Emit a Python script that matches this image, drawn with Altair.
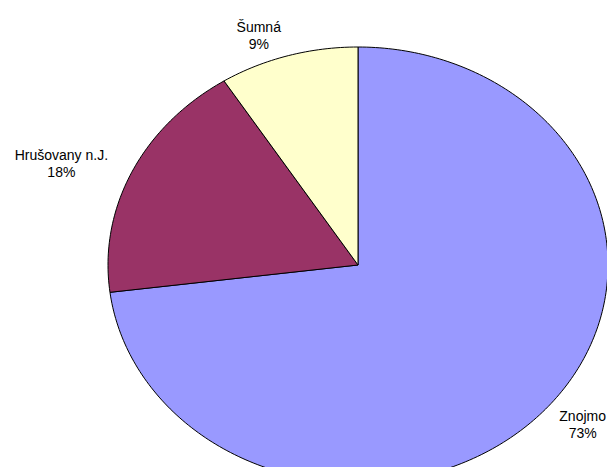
import numpy as np
import pandas as pd
import altair as alt

# Data
names = ["Znojmo", "Hrušovany n.J.", "Šumná"]
shares = [73, 18, 9]
colors = ["#9999FF", "#993366", "#FFFFCC"]

# Layout (ellipse centre / radii in page-pixel units)
W, H = 599, 459
CX, CY, RX, RY = 358, 265, 250, 218
KX, KY, CYOFF = 1.105, 1.1, 2
FS, LH = 14, 17

# approximate Arial advance widths (per 1000 em) to centre label blocks
AW = {"H": 722, "r": 333, "u": 556, "š": 500, "o": 556, "v": 500, "a": 556,
      "n": 556, "y": 500, " ": 278, ".": 278, "J": 500, "Š": 667, "m": 833,
      "á": 556, "Z": 611, "j": 222, "%": 889}


def text_w(s):
    return sum(AW.get(c, 556) for c in s) / 1000 * FS


total = sum(shares)
rows, labels = [], []
start = 0.0
for n, s in zip(names, shares):
    a0 = start / total * 2 * np.pi
    a1 = (start + s) / total * 2 * np.pi
    steps = max(2, int(np.degrees(a1 - a0))) + 1
    angs = np.linspace(a0, a1, steps)
    pts = [(CX, CY)] + [(CX + RX * np.sin(a), CY - RY * np.cos(a)) for a in angs] + [(CX, CY)]
    for i, (x, y) in enumerate(pts):
        rows.append(dict(name=n, i=i, x=x, y=y))
    mid = (a0 + a1) / 2
    sx = np.sin(mid)
    pct = f"{s}%"
    w = max(text_w(n), text_w(pct))
    lx = CX + KX * RX * sx + np.sign(sx) * w / 2
    lx = min(max(lx, 8 + w / 2 + 1), 8 + W - w / 2 - 1)
    labels.append(dict(name=n, pct=pct, x=lx,
                       y=CY - KY * RY * np.cos(mid) + CYOFF))
    start += s

df = pd.DataFrame(rows)
lab = pd.DataFrame(labels)

xs = alt.X("x:Q", scale=alt.Scale(domain=[8, 8 + W], nice=False, zero=False), axis=None)
ys = alt.Y("y:Q", scale=alt.Scale(domain=[8, 8 + H], nice=False, zero=False, reverse=True), axis=None)

pie = alt.Chart(df).mark_line(stroke="black", strokeWidth=1, strokeJoin="round", clip=True).encode(
    x=xs, y=ys,
    order="i:Q",
    detail="name:N",
    fill=alt.Fill("name:N", scale=alt.Scale(domain=names, range=colors), legend=None),
)

base_txt = alt.Chart(lab)
name_txt = base_txt.mark_text(align="center", baseline="middle", font="Liberation Sans",
                              fontSize=FS, color="black", dy=-LH / 2).encode(x=xs, y=ys, text="name:N")
pct_txt = base_txt.mark_text(align="center", baseline="middle", font="Liberation Sans",
                             fontSize=FS, color="black", dy=LH / 2).encode(x=xs, y=ys, text="pct:N")

chart = alt.layer(pie, name_txt, pct_txt).properties(
    width=W, height=H, padding=0, autosize=alt.AutoSizeParams(type="none"),
    background="white"
).configure_view(stroke=None)

chart.save("out.html", embed_options={"renderer": "svg", "actions": False})
